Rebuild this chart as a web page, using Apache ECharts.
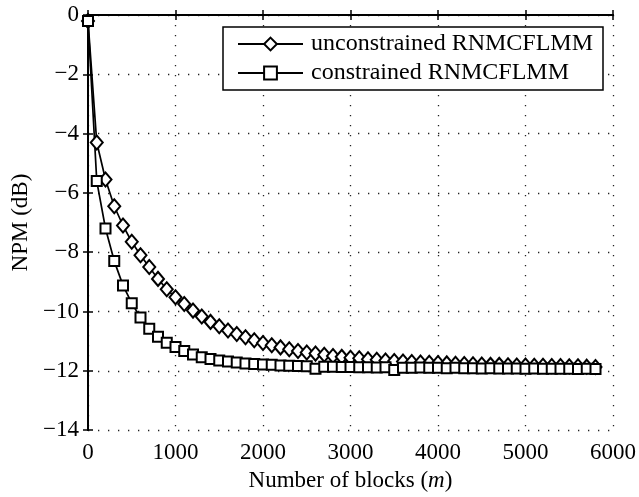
<!DOCTYPE html>
<html>
<head>
<meta charset="utf-8">
<script src="https://cdn.jsdelivr.net/npm/echarts@6/dist/echarts.min.js"></script>
<style>html,body{margin:0;padding:0;background:#fff;}#c{width:639px;height:497px;}</style>
</head>
<body>
<div id="c"></div>
<script>
var blocks = [0,100,200,300,400,500,600,700,800,900,1000,1100,1200,1300,1400,1500,1600,1700,1800,1900,2000,2100,2200,2300,2400,2500,2600,2700,2800,2900,3000,3100,3200,3300,3400,3500,3600,3700,3800,3900,4000,4100,4200,4300,4400,4500,4600,4700,4800,4900,5000,5100,5200,5300,5400,5500,5600,5700,5800];
var unconstrained = [-0.2,-4.3,-5.55,-6.45,-7.1,-7.65,-8.1,-8.5,-8.9,-9.25,-9.52,-9.75,-9.97,-10.17,-10.35,-10.5,-10.64,-10.76,-10.87,-10.97,-11.06,-11.14,-11.21,-11.27,-11.33,-11.38,-11.42,-11.46,-11.5,-11.53,-11.56,-11.58,-11.61,-11.63,-11.65,-11.67,-11.69,-11.7,-11.72,-11.73,-11.74,-11.75,-11.76,-11.77,-11.78,-11.79,-11.8,-11.8,-11.81,-11.82,-11.82,-11.83,-11.83,-11.84,-11.84,-11.85,-11.85,-11.86,-11.87];
var constrained = [-0.2,-5.6,-7.2,-8.3,-9.12,-9.72,-10.2,-10.58,-10.85,-11.05,-11.2,-11.33,-11.45,-11.54,-11.6,-11.65,-11.69,-11.72,-11.75,-11.77,-11.79,-11.8,-11.82,-11.83,-11.84,-11.85,-11.93,-11.86,-11.86,-11.87,-11.87,-11.88,-11.88,-11.89,-11.88,-11.97,-11.9,-11.9,-11.89,-11.9,-11.9,-11.91,-11.9,-11.91,-11.91,-11.92,-11.91,-11.92,-11.92,-11.92,-11.93,-11.92,-11.93,-11.93,-11.93,-11.93,-11.94,-11.93,-11.94];
var seriesNames = ['unconstrained RNMCFLMM', 'constrained RNMCFLMM'];
var xName = 'Number of blocks ({i|m})';
var yName = 'NPM (dB)';

function pairs(xs, ys){ return xs.map(function(x,i){ return [x, ys[i]]; }); }
var FONT = 'Liberation Serif';
var axisLineStyle = {color:'#000', width:2};
var gridLine = {show:true, lineStyle:{color:'#222', width:1.3, type:[1.3,8.7]}};

var chart = echarts.init(document.getElementById('c'), null, {renderer:'canvas'});
chart.setOption({
  animation:false,
  backgroundColor:'#fff',
  grid:{left:88, right:26, top:15, bottom:59},
  legend:{
    orient:'vertical', right:36, top:27,
    itemWidth:65, itemHeight:16, itemGap:5,
    padding:[5,10,5,14],
    backgroundColor:'#fff', borderColor:'#000', borderWidth:1.5,
    textStyle:{fontFamily:FONT, fontSize:24, color:'#000', padding:[0,0,0,3]},
    data:seriesNames
  },
  xAxis:[{
    type:'value', min:0, max:6000, interval:1000, position:'bottom',
    axisLine:{show:true, lineStyle:axisLineStyle},
    axisTick:{show:true, inside:true, length:5, lineStyle:{color:'#000', width:1.5}},
    axisLabel:{fontFamily:FONT, fontSize:23, color:'#000', margin:11,
      formatter:function(v){ return String(v); }},
    splitLine:gridLine,
    name:xName, nameLocation:'middle', nameGap:37,
    nameTextStyle:{fontFamily:FONT, fontSize:23, color:'#000',
      rich:{i:{fontFamily:FONT, fontSize:23, fontStyle:'italic', color:'#000'}}}
  },{
    type:'value', min:0, max:6000, interval:1000, position:'top',
    axisLine:{show:true, lineStyle:axisLineStyle},
    axisTick:{show:true, inside:true, length:5, lineStyle:{color:'#000', width:1.5}},
    axisLabel:{show:false}, splitLine:{show:false}
  }],
  yAxis:[{
    type:'value', min:-14, max:0, interval:2, position:'left',
    axisLine:{show:true, lineStyle:axisLineStyle},
    axisTick:{show:true, inside:true, length:5, lineStyle:{color:'#000', width:1.5}},
    axisLabel:{fontFamily:FONT, fontSize:23, color:'#000', margin:9,
      formatter:function(v){ return String(v).replace('-', '\u2212'); }},
    splitLine:gridLine,
    name:yName, nameLocation:'middle', nameGap:54, nameRotate:90,
    nameTextStyle:{fontFamily:FONT, fontSize:23, color:'#000'}
  },{
    type:'value', min:-14, max:0, interval:2, position:'right',
    axisLine:{show:true, lineStyle:axisLineStyle},
    axisTick:{show:true, inside:true, length:5, lineStyle:{color:'#000', width:1.5}},
    axisLabel:{show:false}, splitLine:{show:false}
  }],
  series:[{
    name:seriesNames[0], type:'line', xAxisIndex:0, yAxisIndex:0,
    data:pairs(blocks, unconstrained),
    symbol:'diamond', symbolSize:[12,14], showAllSymbol:true, clip:false,
    lineStyle:{color:'#000', width:1.7},
    itemStyle:{color:'#fff', borderColor:'#000', borderWidth:2},
    emphasis:{disabled:true}
  },{
    name:seriesNames[1], type:'line', xAxisIndex:0, yAxisIndex:0,
    data:pairs(blocks, constrained),
    symbol:'rect', symbolSize:10, showAllSymbol:true, clip:false,
    lineStyle:{color:'#000', width:1.7},
    itemStyle:{color:'#fff', borderColor:'#000', borderWidth:2},
    emphasis:{disabled:true}
  }]
});
</script>
</body>
</html>
